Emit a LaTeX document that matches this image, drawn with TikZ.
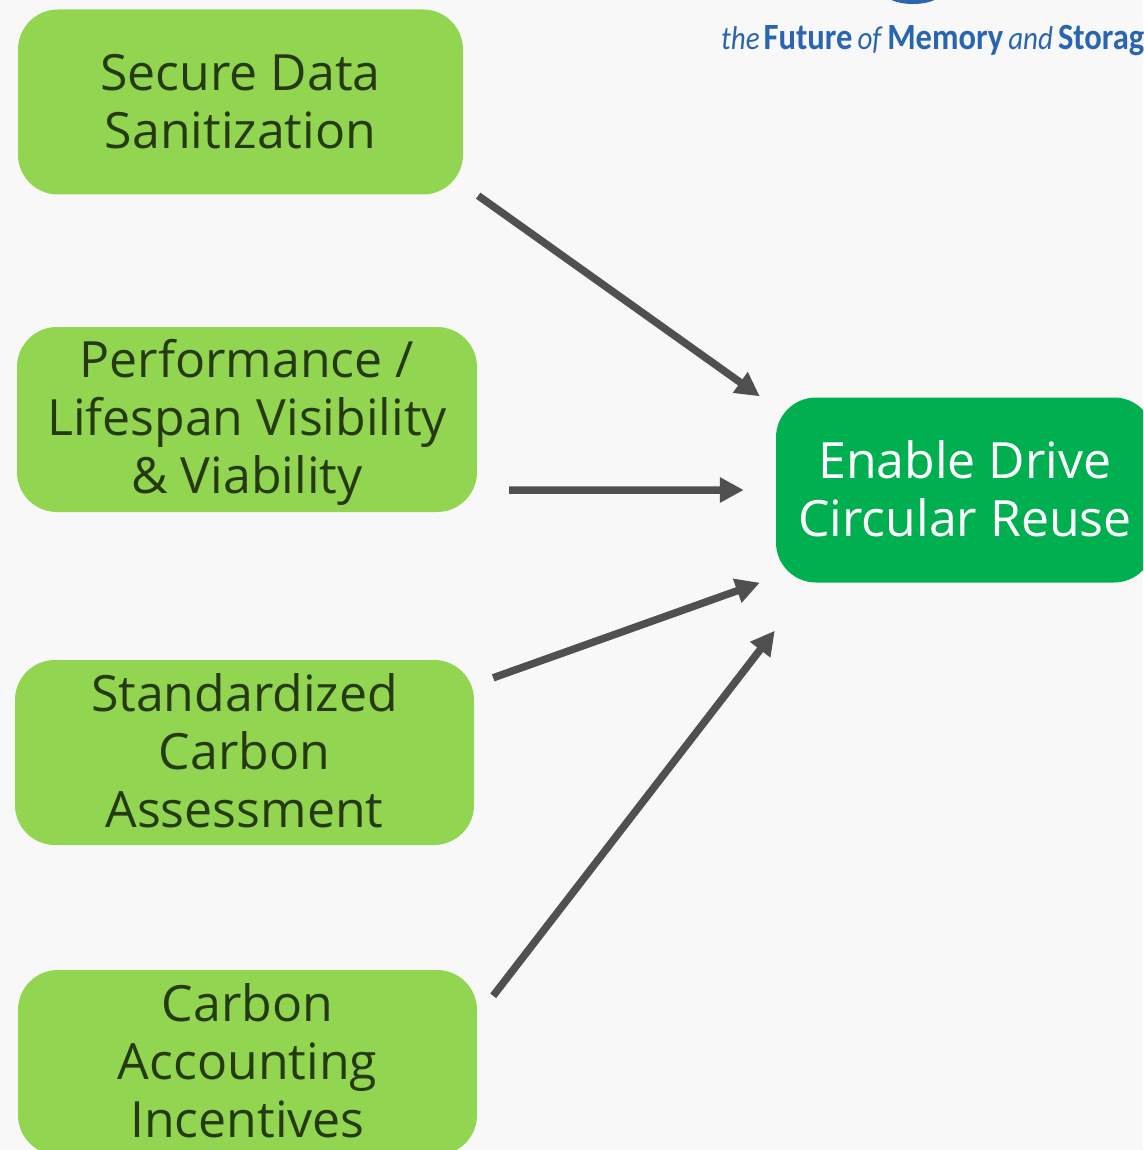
\documentclass[tikz,border=0pt]{standalone}
\usepackage{fontspec}
\setmainfont{Open Sans}
\newfontfamily\logofont[FakeStretch=0.88]{Carlito}
\usetikzlibrary{arrows.meta}
\definecolor{bggray}{HTML}{F8F8F8}
\definecolor{leafgreen}{HTML}{92D551}
\definecolor{darkleaf}{HTML}{263A12}
\definecolor{goalgreen}{HTML}{00B050}
\definecolor{arrowgray}{HTML}{505050}
\definecolor{logoblue}{HTML}{2A66B0}
\newcommand{\logothin}[1]{{\fontsize{33}{36}\selectfont\mdseries\itshape #1}}
\tikzset{
    leafbox/.style={fill=leafgreen, rounded corners=40pt, text=darkleaf, align=center, inner sep=0pt, minimum height=185pt, font=\fontsize{50}{58}\selectfont},
    goalbox/.style={leafbox, fill=goalgreen, text=white},
    linkarrow/.style={draw=arrowgray, line width=7.5pt, -{Triangle[length=24pt,width=24pt]}},
}
\begin{document}
\begin{tikzpicture}[x=1pt,y=-1pt]
    \useasboundingbox[fill=bggray] (0,0) rectangle (1143,1150);
    \begin{scope}
        \clip (0,0) rectangle (1143,1150);
        \fill[logoblue] (880,-12) arc[start angle=180,end angle=0,x radius=33,y radius=16] -- cycle;
        \node (logo) [anchor=base west, text=logoblue, inner sep=0pt, font=\logofont\fontsize{37}{40}\selectfont\bfseries] at (721,50) {\logothin{the}\hspace{4pt}Future\hspace{5pt}\logothin{of}\hspace{6pt}Memory\hspace{5pt}\logothin{and}\hspace{5pt}Storage};
        \node (sanitize) [leafbox, minimum width=445pt, text depth=2pt] at (240.5,102) {Secure Data\\Sanitization};
        \node (lifespan) [leafbox, minimum width=460pt, text depth=6pt] at (247,419.5) {Performance /\\Lifespan Visibility\\\& Viability};
        \node (assess) [leafbox, minimum width=459pt, text depth=4pt] at (244.5,752.5) {Standardized\\Carbon\\Assessment};
        \node (account) [leafbox, minimum width=459pt, text depth=4pt] at (247.5,1062.5) {Carbon\\Accounting\\Incentives};
        \node (reuse) [goalbox, minimum width=378pt, text depth=2pt] at (965,490) {Enable Drive\\Circular Reuse};
    \end{scope}
    % free ends, the arrows stop short of the boxes
    \coordinate (a1) at ([shift={(15,1)}]sanitize.south east);
    \coordinate (b1) at ([shift={(-16,-1)}]reuse.north west);
    \coordinate (a2) at ([shift={(32,-22)}]lifespan.south east);
    \coordinate (b2) at ([shift={(-32,0)}]reuse.west);
    \coordinate (a3) at ([shift={(19,18)}]assess.north east);
    \coordinate (b3) at ([shift={(-16,0)}]reuse.south west);
    \coordinate (a4) at ([shift={(16,26)}]account.north east);
    \coordinate (b4) at ([shift={(-1,48)}]reuse.south west);
    \draw[linkarrow] (a1) -- (b1);
    \draw[linkarrow] (a2) -- (b2);
    \draw[linkarrow] (a3) -- (b3);
    \draw[linkarrow] (a4) -- (b4);
\end{tikzpicture}
\end{document}
